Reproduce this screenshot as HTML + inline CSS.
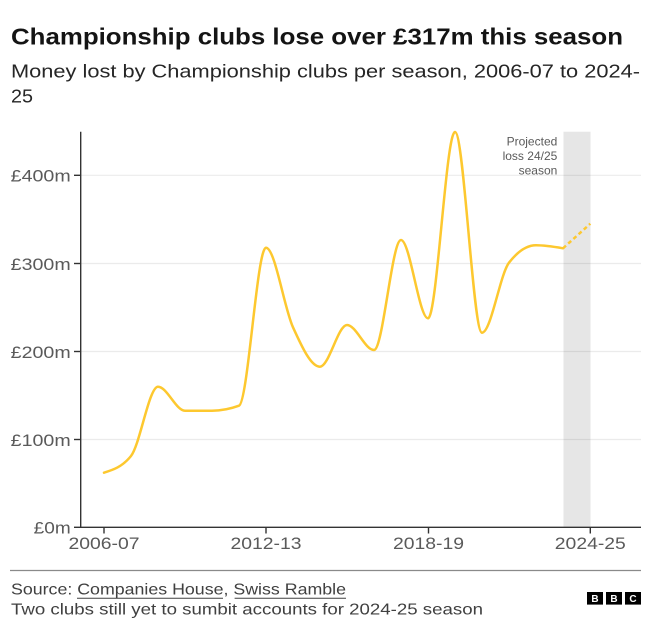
<!DOCTYPE html>
<html>
<head>
<meta charset="utf-8">
<style>
html,body{margin:0;padding:0;background:#fff;}
body{width:650px;height:631px;overflow:hidden;}
svg{display:block;}
text{font-family:"Liberation Sans",sans-serif;}
</style>
</head>
<body>
<svg width="650" height="631" viewBox="0 0 650 631" xmlns="http://www.w3.org/2000/svg">
  <!-- Title -->
  <text x="11" y="44.3" font-size="23" font-weight="bold" fill="#141414" textLength="612" lengthAdjust="spacingAndGlyphs">Championship clubs lose over £317m this season</text>
  <!-- Subtitle -->
  <text x="11" y="77.7" font-size="18.5" fill="#262626" textLength="629" lengthAdjust="spacingAndGlyphs">Money lost by Championship clubs per season, 2006-07 to 2024-</text>
  <text x="11" y="102.3" font-size="18.5" fill="#262626" textLength="22" lengthAdjust="spacingAndGlyphs">25</text>

  <!-- Projection band -->
  <rect x="563.5" y="131.7" width="27" height="395.6" fill="#e6e6e6"/>

  <!-- Gridlines -->
  <g stroke="rgba(0,0,0,0.08)" stroke-width="1.2">
    <line x1="81" y1="175.3" x2="641" y2="175.3"/>
    <line x1="81" y1="263.5" x2="641" y2="263.5"/>
    <line x1="81" y1="351.5" x2="641" y2="351.5"/>
    <line x1="81" y1="439.5" x2="641" y2="439.5"/>
  </g>

  <!-- Annotation -->
  <g font-size="12" fill="#5a5a5a" text-anchor="end">
    <text x="557.3" y="145.7">Projected</text>
    <text x="557.3" y="160.2">loss 24/25</text>
    <text x="557.3" y="174.5">season</text>
  </g>

  <!-- Axes -->
  <g stroke="#333" stroke-width="1.4">
    <line x1="80.7" y1="131.7" x2="80.7" y2="527.8"/>
    <line x1="80" y1="527.3" x2="641" y2="527.3"/>
    <!-- y ticks -->
    <line x1="74" y1="175.3" x2="80.7" y2="175.3"/>
    <line x1="74" y1="263.5" x2="80.7" y2="263.5"/>
    <line x1="74" y1="351.5" x2="80.7" y2="351.5"/>
    <line x1="74" y1="439.5" x2="80.7" y2="439.5"/>
    <line x1="74" y1="527.3" x2="80.7" y2="527.3"/>
    <!-- x ticks -->
    <line x1="104" y1="527.3" x2="104" y2="533.5"/>
    <line x1="266" y1="527.3" x2="266" y2="533.5"/>
    <line x1="428.5" y1="527.3" x2="428.5" y2="533.5"/>
    <line x1="590.3" y1="527.3" x2="590.3" y2="533.5"/>
  </g>

  <!-- Y labels -->
  <g font-size="17" fill="#5a5a5a" text-anchor="end">
    <text x="70.7" y="181.7" textLength="60" lengthAdjust="spacingAndGlyphs">£400m</text>
    <text x="70.7" y="269.8" textLength="60" lengthAdjust="spacingAndGlyphs">£300m</text>
    <text x="70.7" y="357.8" textLength="60" lengthAdjust="spacingAndGlyphs">£200m</text>
    <text x="70.7" y="445.8" textLength="60" lengthAdjust="spacingAndGlyphs">£100m</text>
    <text x="70.7" y="533.6" textLength="37" lengthAdjust="spacingAndGlyphs">£0m</text>
  </g>

  <!-- X labels -->
  <g font-size="17" fill="#5a5a5a" text-anchor="middle">
    <text x="104" y="549" textLength="71" lengthAdjust="spacingAndGlyphs">2006-07</text>
    <text x="266" y="549" textLength="71" lengthAdjust="spacingAndGlyphs">2012-13</text>
    <text x="428.5" y="549" textLength="71" lengthAdjust="spacingAndGlyphs">2018-19</text>
    <text x="590.3" y="549" textLength="71" lengthAdjust="spacingAndGlyphs">2024-25</text>
  </g>

  <!-- Series line -->
  <path fill="none" stroke="#fdc82f" stroke-width="2.5" stroke-linejoin="round" stroke-linecap="round"
    d="M104,472.7
       C113,469.9 122,467.1 131,456
       C140,444.9 149,386.7 158,386.7
       C167,386.7 176,410.7 185,410.7
       C194,410.7 203,410.7 212,410.7
       C221,410.7 230,409.0 239,405.7
       C248,402.4 257,247.7 266,247.7
       C275,247.7 284,307.5 293,327.3
       C302,347.1 311,366.7 320,366.7
       C329,366.7 338,325 347,325
       C356,325 365,350 374,350
       C383,350 392,240 401,240
       C410,240 419,318.3 428,318.3
       C437,318.3 446,132 455,132
       C464,132 473,332.7 482,332.7
       C491,332.7 500,274.3 509,262.7
       C518,251.1 527,245.3 536,245.3
       C545,245.3 554,246.8 563,248.3"/>
  <!-- Projection dashed -->
  <path fill="none" stroke="#fdc82f" stroke-width="2.5" stroke-dasharray="4,3" d="M563,248.3 L590.3,223.7"/>

  <!-- Footer -->
  <line x1="10" y1="570.5" x2="641" y2="570.5" stroke="#8a8a8a" stroke-width="1.2"/>
  <text x="11" y="594.3" font-size="16" fill="#404040" textLength="335" lengthAdjust="spacingAndGlyphs">Source: Companies House, Swiss Ramble</text>
  <line x1="77" y1="598.3" x2="223" y2="598.3" stroke="#404040" stroke-width="1"/>
  <line x1="234.6" y1="598.3" x2="346" y2="598.3" stroke="#404040" stroke-width="1"/>
  <text x="11" y="614.3" font-size="16" fill="#404040" textLength="472" lengthAdjust="spacingAndGlyphs">Two clubs still yet to sumbit accounts for 2024-25 season</text>

  <!-- BBC logo -->
  <g>
    <rect x="587" y="592" width="16" height="12.6" fill="#000"/>
    <rect x="606" y="592" width="16" height="12.6" fill="#000"/>
    <rect x="625" y="592" width="16" height="12.6" fill="#000"/>
    <g font-size="10" font-weight="bold" fill="#fff" text-anchor="middle">
      <text x="595" y="602">B</text>
      <text x="614" y="602">B</text>
      <text x="633" y="602">C</text>
    </g>
  </g>
</svg>
</body>
</html>
